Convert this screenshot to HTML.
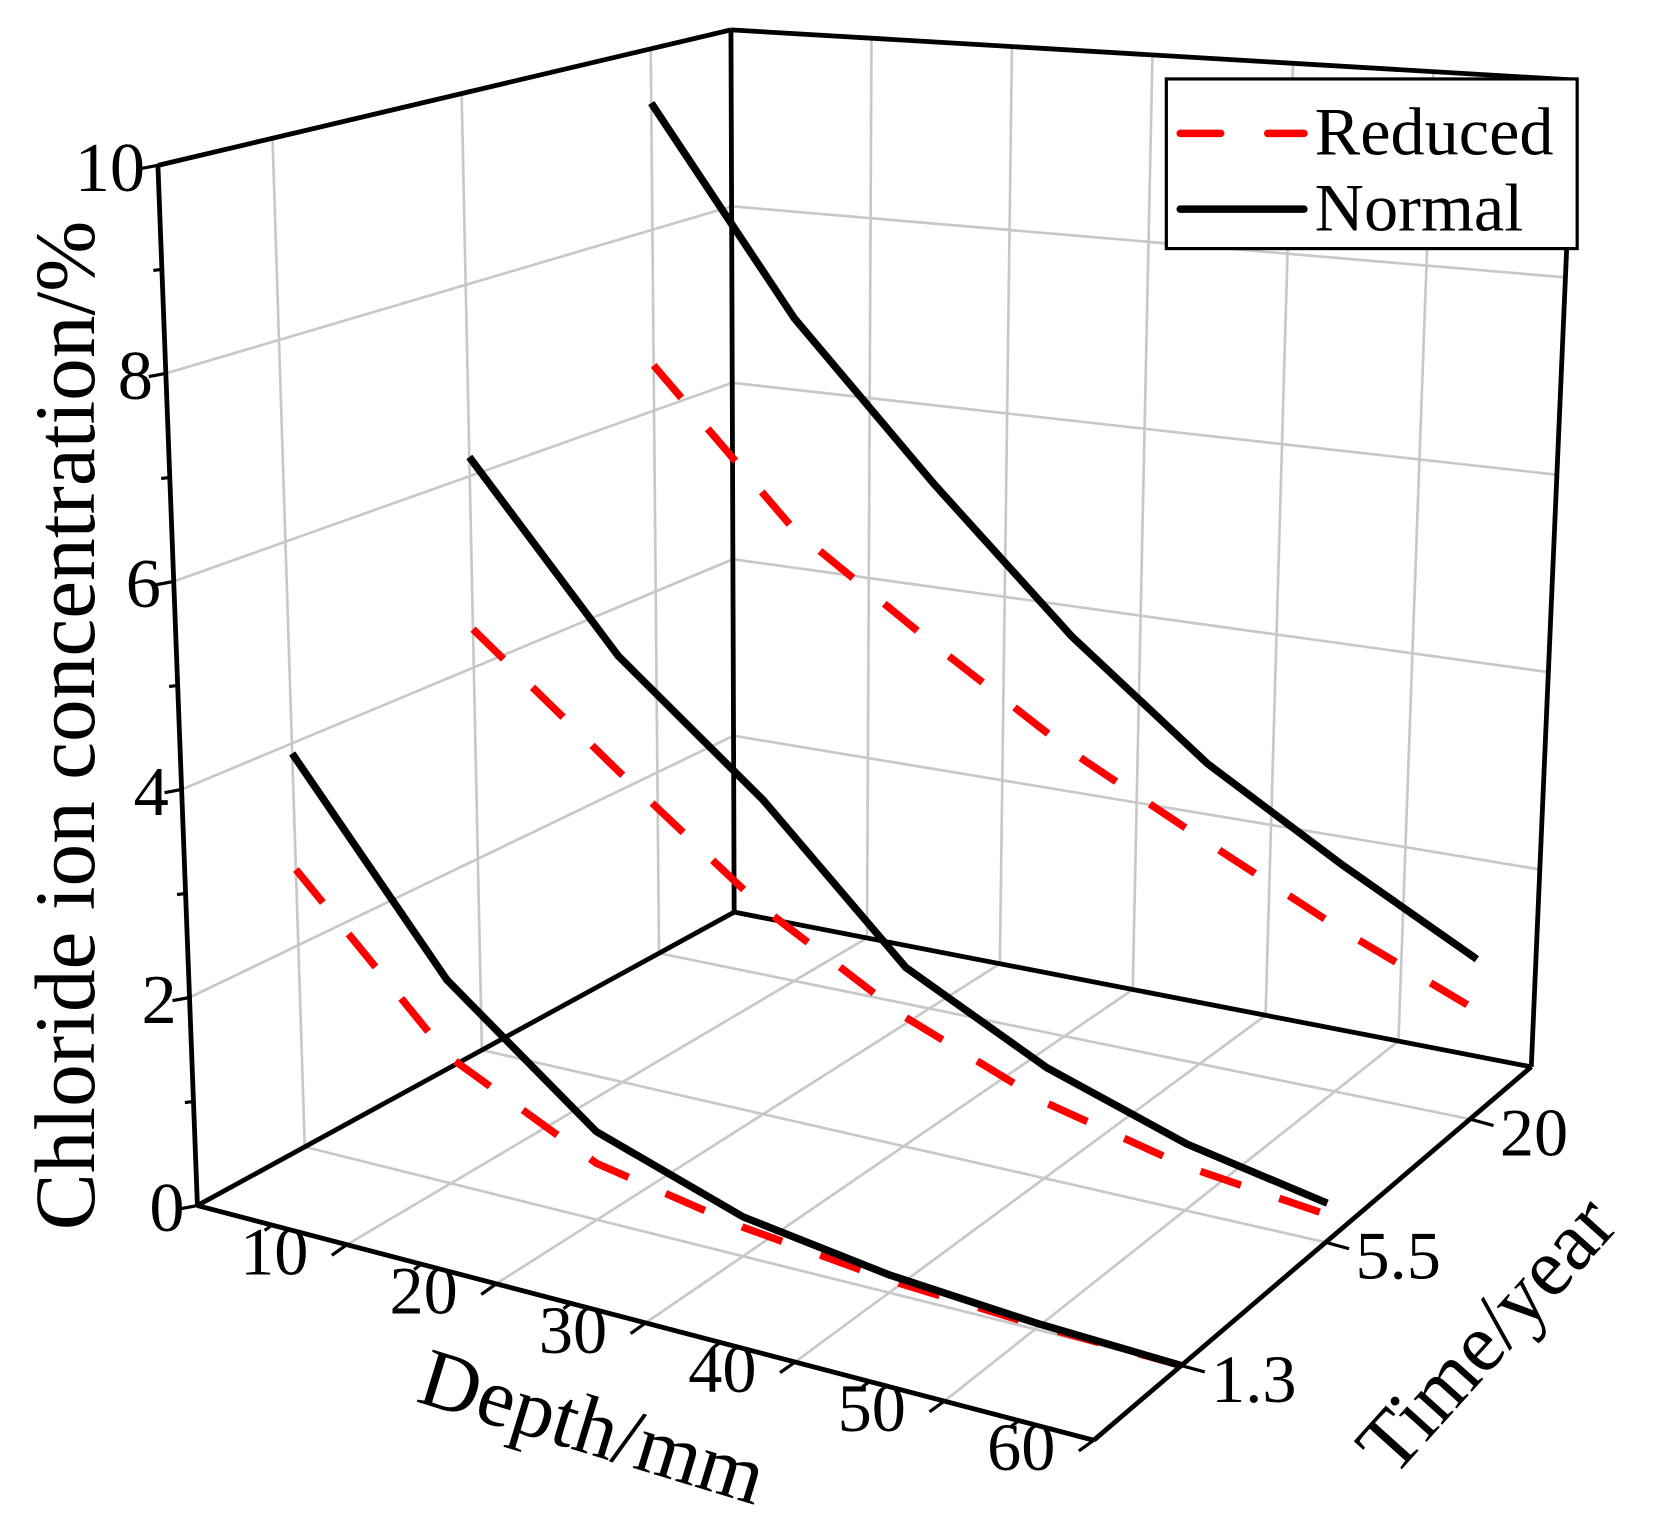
<!DOCTYPE html>
<html><head><meta charset="utf-8"><style>
html,body{margin:0;padding:0;background:#fff;}
svg{display:block;}
text{font-family:"Liberation Serif",serif;fill:#000;}
</style></head><body>
<svg id="chart" width="1654" height="1532" viewBox="0 0 1550 1436" preserveAspectRatio="none" xmlns="http://www.w3.org/2000/svg">
<g id="grid"></g>
<g id="frame"></g>
<g id="series"></g>
<g id="labels"></g>
<text x="0" y="0" font-size="80" text-anchor="middle" transform="translate(88,680) rotate(-90)">Chloride ion concentration/%</text>
<text x="0" y="0" font-size="78" text-anchor="middle" transform="translate(548,1362) rotate(17)">Depth/mm</text>
<text x="0" y="0" font-size="78" text-anchor="middle" transform="translate(1412,1268) rotate(-48)">Time/year</text>
<g>
<rect x="1093" y="74" width="385" height="159" fill="#fff" stroke="#000" stroke-width="3"/>
<line x1="1106" y1="125" x2="1222" y2="125" stroke="#f00" stroke-width="7" stroke-dasharray="38,44" stroke-linecap="round"/>
<text x="1232" y="145" font-size="64">Reduced</text>
<line x1="1106" y1="196" x2="1222" y2="196" stroke="#000" stroke-width="7" stroke-linecap="round"/>
<text x="1232" y="216" font-size="64">Normal</text>
</g>
</svg>
<script>
const depths = [0, 10, 20, 30, 40, 50, 60];
const timeLabels = ["1.3", "5.5", "20"];
const depthTicks = [10, 20, 30, 40, 50, 60];
const zTicks = [0, 2, 4, 6, 8, 10];
const normal13 = [3.9, 2.0, 0.86, 0.38, 0.17, 0.06, 0.0];
const reduced13 = [2.75, 1.25, 0.55, 0.28, 0.12, 0.04, 0.0];
const normal55 = [6.2, 4.4, 3.2, 1.8, 1.1, 0.65, 0.38];
const reduced55 = [4.4, 3.2, 2.1, 1.3, 0.75, 0.43, 0.27];
const normal20 = [9.4, 7.2, 5.6, 4.2, 3.1, 2.3, 1.6];
const reduced20 = [6.5, 4.9, 3.9, 3.0, 2.3, 1.65, 1.1];

const NS = "http://www.w3.org/2000/svg";
const A=[185,1130],B=[1025,1350],C=[1435,1000],D=[688,855];
const ZA=[-37,-975],ZB=[40,-1010],ZC=[40,-925],ZD=[-3,-827];
const D_MIN=0,D_MAX=60,Z_MAX=10;
function tFrac(i){return 0.2+i*0.33;}
function bil(P,Q,R,S,u,v){
  return [P[0]*(1-u)*(1-v)+Q[0]*u*(1-v)+R[0]*u*v+S[0]*(1-u)*v,
          P[1]*(1-u)*(1-v)+Q[1]*u*(1-v)+R[1]*u*v+S[1]*(1-u)*v];
}
function proj(u,v,z){
  const f=bil(A,B,C,D,u,v), zv=bil(ZA,ZB,ZC,ZD,u,v);
  return [f[0]+zv[0]*z/Z_MAX, f[1]+zv[1]*z/Z_MAX];
}
function dU(d){return (d-D_MIN)/(D_MAX-D_MIN);}
function line(g,p,q,stroke,w,name){
  const l=document.createElementNS(NS,"line");
  l.setAttribute("x1",p[0]);l.setAttribute("y1",p[1]);l.setAttribute("x2",q[0]);l.setAttribute("y2",q[1]);
  l.setAttribute("stroke",stroke);l.setAttribute("stroke-width",w);
  
  
  g.appendChild(l);return l;
}
function txt(g,x,y,s,size,anchor,name){
  const t=document.createElementNS(NS,"text");
  t.setAttribute("x",x);t.setAttribute("y",y);t.setAttribute("font-size",size);t.setAttribute("text-anchor",anchor);
  t.textContent=s;
  
  
  g.appendChild(t);
}
const grid=document.getElementById("grid"),frame=document.getElementById("frame"),
      series=document.getElementById("series"),labels=document.getElementById("labels");
const GC="#c8c8c8",GW=2.5;
depthTicks.slice(0,-1).forEach(d=>{line(grid,proj(dU(d),1,0),proj(dU(d),1,Z_MAX),GC,GW,"back-wall-depth-gridline");});
zTicks.slice(1,-1).forEach(z=>{line(grid,proj(0,1,z),proj(1,1,z),GC,GW,"back-wall-z-gridline");});
timeLabels.forEach((s,i)=>{line(grid,proj(0,tFrac(i),0),proj(0,tFrac(i),Z_MAX),GC,GW,"left-wall-time-gridline");});
zTicks.slice(1,-1).forEach(z=>{line(grid,proj(0,0,z),proj(0,1,z),GC,GW,"left-wall-z-gridline");});
depthTicks.slice(0,-1).forEach(d=>{line(grid,proj(dU(d),0,0),proj(dU(d),1,0),GC,GW,"floor-depth-gridline");});
timeLabels.forEach((s,i)=>{line(grid,proj(0,tFrac(i),0),proj(1,tFrac(i),0),GC,GW,"floor-time-gridline");});
const K="#000",FW=4.5;
line(frame,proj(0,0,0),proj(1,0,0),K,FW,"depth-axis-line");
line(frame,proj(1,0,0),proj(1,1,0),K,FW,"time-axis-line");
line(frame,proj(0,0,0),proj(0,1,0),K,FW,"floor-left-edge");
line(frame,proj(0,1,0),proj(1,1,0),K,FW,"floor-back-edge");
line(frame,proj(0,0,0),proj(0,0,Z_MAX),K,FW,"z-axis-line");
line(frame,proj(0,1,0),proj(0,1,Z_MAX),K,FW,"back-left-edge");
line(frame,proj(1,1,0),proj(1,1,Z_MAX),K,FW,"back-right-edge");
line(frame,proj(0,0,Z_MAX),proj(0,1,Z_MAX),K,FW,"left-top-edge");
line(frame,proj(0,1,Z_MAX),proj(1,1,Z_MAX),K,FW,"back-top-edge");
for(let z=0;z<=Z_MAX;z++){
  const p=proj(0,0,z), major=z%2===0;
  line(frame,p,[p[0]-(major?16:8),p[1]+(major?3:1)],K,3,"z-tick");
}
zTicks.forEach(z=>{const p=proj(0,0,z);txt(labels,p[0]-12,p[1]+24,String(z),66,"end","z-tick-label");});
for(let d=5;d<=60;d+=5){
  const p=proj(dU(d),0,0), major=d%10===0;
  line(frame,p,[p[0]-(major?14:7),p[1]+(major?10:5)],K,3,"depth-tick");
}
depthTicks.forEach(d=>{const p=proj(dU(d),0,0);txt(labels,p[0]-68,p[1]+28,String(d),64,"middle","depth-tick-label");});
timeLabels.forEach((s,i)=>{const p=proj(1,tFrac(i),0);
  line(frame,p,[p[0]+22,p[1]+6],K,3,"time-tick");
  txt(labels,p[0]+28,p[1]+34,s,64,"start","time-tick-label");});
const seriesList=[[normal13,0,false,"normal-1.3"],[reduced13,0,true,"reduced-1.3"],
  [normal55,1,false,"normal-5.5"],[reduced55,1,true,"reduced-5.5"],
  [normal20,2,false,"normal-20"],[reduced20,2,true,"reduced-20"]];
seriesList.forEach(([vals,ti,dashed,name])=>{
  const pts=vals.map((z,k)=>proj(dU(depths[k]),tFrac(ti),z).join(",")).join(" ");
  const pl=document.createElementNS(NS,"polyline");
  pl.setAttribute("points",pts);pl.setAttribute("fill","none");
  pl.setAttribute("stroke",dashed?"#f00":"#000");pl.setAttribute("stroke-width",7);
  if(dashed)pl.setAttribute("stroke-dasharray","40,38");
  
  
  if(dashed) series.insertBefore(pl,series.firstChild); else series.appendChild(pl);
});
</script>
</body></html>
